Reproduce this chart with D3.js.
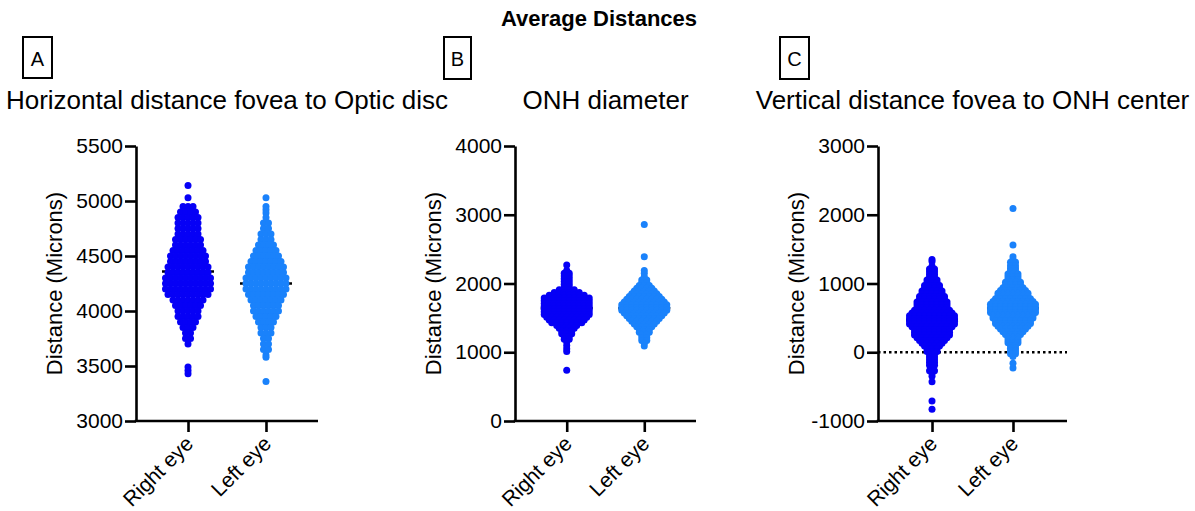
<!DOCTYPE html>
<html><head><meta charset="utf-8">
<script src="https://cdn.jsdelivr.net/npm/d3@7"></script>
<style>
body{margin:0;background:#fff}
text{font-family:"Liberation Sans",Arial,Helvetica,sans-serif;fill:#000}
</style>
</head><body>
<svg id="chart" width="1195" height="511"></svg>
<script>
// ---------- DATA ----------
const categories = ["Right eye", "Left eye"];
const panelLetters = ["A", "B", "C"];
const panelTitles = ["Horizontal distance fovea to Optic disc", "ONH diameter", "Vertical distance fovea to ONH center"];
const mainTitle = "Average Distances";
const yTitle = "Distance (Microns)";

const horizTicks = [3000, 3500, 4000, 4500, 5000, 5500];
const diamTicks = [0, 1000, 2000, 3000, 4000];
const vertTicks = [-1000, 0, 1000, 2000, 3000];

// rows of the scatter: [value (microns), number of dots in that row]
const horizRight = [[5140,1],[5030,1],[4950,3],[4900,4],[4850,5],[4800,5],[4750,5],[4700,5],[4650,6],[4600,6],[4550,7],[4500,8],[4450,8],[4400,9],[4350,9],[4300,10],[4250,10],[4200,10],[4150,9],[4100,7],[4050,6],[4000,5],[3950,5],[3900,4],[3850,3],[3800,2],[3750,2],[3700,1],[3490,1],[3460,1],[3430,1]];
const horizLeft = [[5030,1],[4950,1],[4920,1],[4890,1],[4850,1],[4800,2],[4750,2],[4700,3],[4650,3],[4600,4],[4550,5],[4500,6],[4450,7],[4400,8],[4350,8],[4300,9],[4250,9],[4200,9],[4150,8],[4100,7],[4050,6],[4000,6],[3950,5],[3900,4],[3850,3],[3800,3],[3750,2],[3700,2],[3650,2],[3600,1],[3580,1],[3360,1]];

const diamRight = [[2270,1],[2190,1],[2150,2],[2110,2],[2070,2],[2030,2],[1990,2],[1950,2],[1910,4],[1870,6],[1830,8],[1790,10],[1750,10],[1710,10],[1670,10],[1630,10],[1590,10],[1550,10],[1510,9],[1470,8],[1430,7],[1390,5],[1350,4],[1310,3],[1270,3],[1230,2],[1190,2],[1150,1],[1100,1],[1050,1],[1010,1],[740,1]];
const diamLeft = [[2860,1],[2390,1],[2190,1],[2150,1],[2100,1],[2050,2],[2010,2],[1970,3],[1930,4],[1890,5],[1850,6],[1810,7],[1770,8],[1730,9],[1690,10],[1650,10],[1610,10],[1570,9],[1530,8],[1490,7],[1450,6],[1410,5],[1370,4],[1330,3],[1290,3],[1250,2],[1210,2],[1170,2],[1130,1],[1090,1]];

const vertRight = [[1350,1],[1320,1],[1250,1],[1210,2],[1170,2],[1130,2],[1090,2],[1050,3],[1010,3],[970,4],[930,4],[890,5],[850,5],[810,6],[770,6],[730,7],[690,7],[650,7],[610,8],[570,9],[530,10],[490,10],[450,10],[410,10],[370,9],[330,8],[290,8],[250,8],[210,7],[170,6],[130,5],[90,4],[50,3],[10,3],[-30,2],[-70,2],[-110,2],[-150,2],[-190,2],[-230,1],[-270,2],[-310,1],[-350,1],[-430,1],[-710,1],[-830,1]];
const vertLeft = [[2090,1],[1560,1],[1390,1],[1350,1],[1310,2],[1260,2],[1220,2],[1180,2],[1140,3],[1100,3],[1060,3],[1020,4],[980,4],[940,5],[900,6],[860,7],[820,7],[780,8],[740,9],[700,10],[660,10],[620,10],[580,10],[540,9],[500,9],[460,8],[420,8],[380,7],[340,6],[300,5],[260,4],[220,3],[180,3],[140,3],[100,2],[60,2],[20,2],[-20,2],[-60,1],[-160,1],[-230,1]];

const horizMeans = [4360, 4250];
const diamMeans = [1640, 1640];
const vertMeans = [470, 640];

// ---------- LAYOUT / STYLE ----------
const colors = ["#0600F6", "#1A82FB"];
const yTop = 146, yBottom = 421;
const panels = [
  {x0:136, x1:318, domain:[3000,5500], ticks:horizTicks, rows:[horizRight, horizLeft], means:horizMeans, zero:false, box:[23,37,29,41]},
  {x0:515, x1:696, domain:[0,4000], ticks:diamTicks, rows:[diamRight, diamLeft], means:diamMeans, zero:false, box:[444,37,27,42]},
  {x0:878, x1:1067, domain:[-1000,3000], ticks:vertTicks, rows:[vertRight, vertLeft], means:vertMeans, zero:true, box:[780,37,29,42]}
];

const svg = d3.select("#chart");

svg.append("text").attr("x", 599).attr("y", 26).attr("text-anchor","middle")
  .attr("font-size", 22).attr("font-weight","bold").text(mainTitle);

panels.forEach((p, pi) => {
  const g = svg.append("g");
  const y = d3.scaleLinear().domain(p.domain).range([yBottom, yTop]);
  const x = d3.scalePoint().domain(categories).range([p.x0, p.x1]).padding(0.667);

  g.append("rect").attr("x", p.box[0]).attr("y", p.box[1]).attr("width", p.box[2]).attr("height", p.box[3])
    .attr("fill","none").attr("stroke","#000").attr("stroke-width",2);
  g.append("text").attr("x", p.box[0] + p.box[2]/2).attr("y", p.box[1] + 29)
    .attr("text-anchor","middle").attr("font-size", 20).text(panelLetters[pi]);

  g.append("text").attr("x", (p.x0 + p.x1)/2).attr("y", 109).attr("text-anchor","middle")
    .attr("font-size", 26).text(panelTitles[pi]);

  if (p.zero) {
    g.append("line").attr("x1", p.x0).attr("x2", p.x1).attr("y1", y(0)).attr("y2", y(0))
      .attr("stroke","#000").attr("stroke-width",2.5).attr("stroke-dasharray","2.5,3");
  }

  categories.forEach((c, ci) => {
    g.append("line").attr("x1", x(c) - 26).attr("x2", x(c) + 26)
      .attr("y1", y(p.means[ci])).attr("y2", y(p.means[ci]))
      .attr("stroke","#000").attr("stroke-width",2.5);
  });

  const sp = 5;
  categories.forEach((c, ci) => {
    const pts = [];
    p.rows[ci].forEach(([v, n]) => {
      for (let i = 0; i < n; i++) pts.push({v, off: (i - (n - 1)/2) * sp});
    });
    g.append("g").selectAll("circle").data(pts).join("circle")
      .attr("cx", d => x(c) + d.off).attr("cy", d => y(d.v))
      .attr("r", 3.5).attr("fill", colors[ci]);
  });

  const ya = g.append("g").attr("transform", `translate(${p.x0},0)`)
    .call(d3.axisLeft(y).tickValues(p.ticks).tickSize(11).tickSizeOuter(0).tickPadding(2));
  ya.select(".domain").attr("stroke-width", 2.6);
  ya.selectAll(".tick line").attr("stroke-width", 2.6);
  ya.selectAll(".tick text").attr("font-size", 21).attr("font-family", '"Liberation Sans",Arial,sans-serif')
    .text(d => d < 0 ? "-" + Math.abs(d) : String(d));

  const xa = g.append("g").attr("transform", `translate(0,${yBottom})`)
    .call(d3.axisBottom(x).tickSize(11).tickSizeOuter(0));
  xa.select(".domain").attr("stroke-width", 2.6).attr("d", `M${p.x0 - 1.3},0H${p.x1}`);
  xa.selectAll(".tick line").attr("stroke-width", 2.6);
  xa.selectAll(".tick text").attr("font-size", 21).attr("font-family", '"Liberation Sans",Arial,sans-serif')
    .attr("text-anchor","end").attr("dy", null).attr("y", 0)
    .attr("transform", "translate(6,24) rotate(-45)");

  g.append("text").attr("transform", `translate(${p.x0 - 74},${(yTop + yBottom)/2}) rotate(-90)`)
    .attr("text-anchor","middle").attr("font-size", 22).text(yTitle);
});
</script>
</body></html>
